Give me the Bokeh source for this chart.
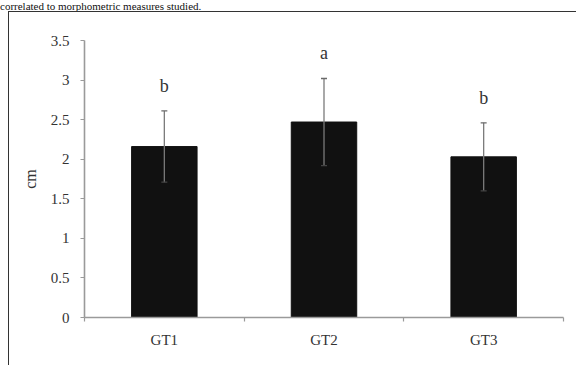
from bokeh.plotting import figure
from bokeh.layouts import column
from bokeh.models import ColumnDataSource, Whisker, TeeHead, FixedTicker, Div
from bokeh.core.properties import value
from bokeh.embed import file_html
from bokeh.resources import INLINE

categories = ["GT1", "GT2", "GT3"]
means = [2.16, 2.47, 2.03]
sds = [0.45, 0.55, 0.43]
letters = ["b", "a", "b"]
y_ticks = [0, 0.5, 1, 1.5, 2, 2.5, 3, 3.5]
y_tick_labels = ["0", "0.5", "1", "1.5", "2", "2.5", "3", "3.5"]
y_label = "cm"
caption = "correlated to morphometric measures studied."

SERIF = "Liberation Serif"
n = len(categories)
xpos = [i + 0.5 for i in range(n)]
source = ColumnDataSource(dict(
    x=xpos,
    mean=means,
    upper=[m + s for m, s in zip(means, sds)],
    lower=[m - s for m, s in zip(means, sds)],
    letter=letters,
))

p = figure(width=568, height=354, x_range=(0, n), y_range=(y_ticks[0], y_ticks[-1]),
           output_backend="svg", toolbar_location=None,
           min_border_left=75, min_border_right=14, min_border_top=28, min_border_bottom=49)
p.margin = (0, 0, 0, 9)
p.styles = {"box-shadow": "-1px -1px 0px 0px #333333"}
p.grid.visible = False
p.outline_line_color = None
p.background_fill_color = "white"
p.border_fill_color = "white"

p.vbar(x="x", top="mean", bottom=0, width=0.41, source=source,
       fill_color="#111111", line_color="#111111")

w = Whisker(source=source, base="x", upper="upper", lower="lower",
            line_color="#7a7a7a", line_width=1.3, level="overlay",
            upper_head=TeeHead(size=6, line_color="#6a6a6a", line_width=1.3),
            lower_head=TeeHead(size=6, line_color="#444444", line_width=1.3))
p.add_layout(w)

p.text(x="x", y="upper", text="letter", source=source,
       text_font=value(SERIF), text_font_size="18px", text_align="center",
       text_baseline="bottom", y_offset=-15, text_color="#333333")

ya = p.yaxis[0]
ya.ticker = FixedTicker(ticks=y_ticks, minor_ticks=[])
ya.major_label_overrides = {t: l for t, l in zip(y_ticks, y_tick_labels)}
ya.axis_line_color = "#9a9a9a"
ya.axis_line_width = 1.6
ya.major_tick_line_color = "#9a9a9a"
ya.major_tick_line_width = 1.2
ya.major_tick_out = 4
ya.major_tick_in = 0
ya.minor_tick_line_color = None
ya.major_label_standoff = 11
ya.major_label_text_font = SERIF
ya.major_label_text_font_size = "15px"
ya.major_label_text_color = "#333333"
ya.axis_label = y_label
ya.axis_label_text_font = SERIF
ya.axis_label_text_font_size = "16px"
ya.axis_label_text_font_style = "normal"
ya.axis_label_text_color = "#333333"
ya.axis_label_standoff = 9

xa = p.xaxis[0]
xa.ticker = FixedTicker(ticks=xpos, minor_ticks=list(range(n + 1)))
xa.major_label_overrides = {x: c for x, c in zip(xpos, categories)}
xa.axis_line_color = "#9a9a9a"
xa.axis_line_width = 1.6
xa.major_tick_out = 0
xa.major_tick_in = 0
xa.major_tick_line_color = None
xa.minor_tick_line_color = "#9a9a9a"
xa.minor_tick_line_width = 1.2
xa.minor_tick_out = 4
xa.minor_tick_in = 0
xa.major_label_standoff = 10
xa.major_label_text_font = SERIF
xa.major_label_text_font_size = "15px"
xa.major_label_text_color = "#333333"

cap = Div(text=caption, width=560, height=12, margin=(0, 0, 0, 0),
          styles={"font-family": "'Liberation Serif', serif", "font-size": "11px",
                  "line-height": "12px", "white-space": "nowrap", "color": "#111111",
                  "overflow": "hidden"})

layout = column(cap, p, spacing=0)
open("out.html", "w").write(file_html(layout, INLINE))
